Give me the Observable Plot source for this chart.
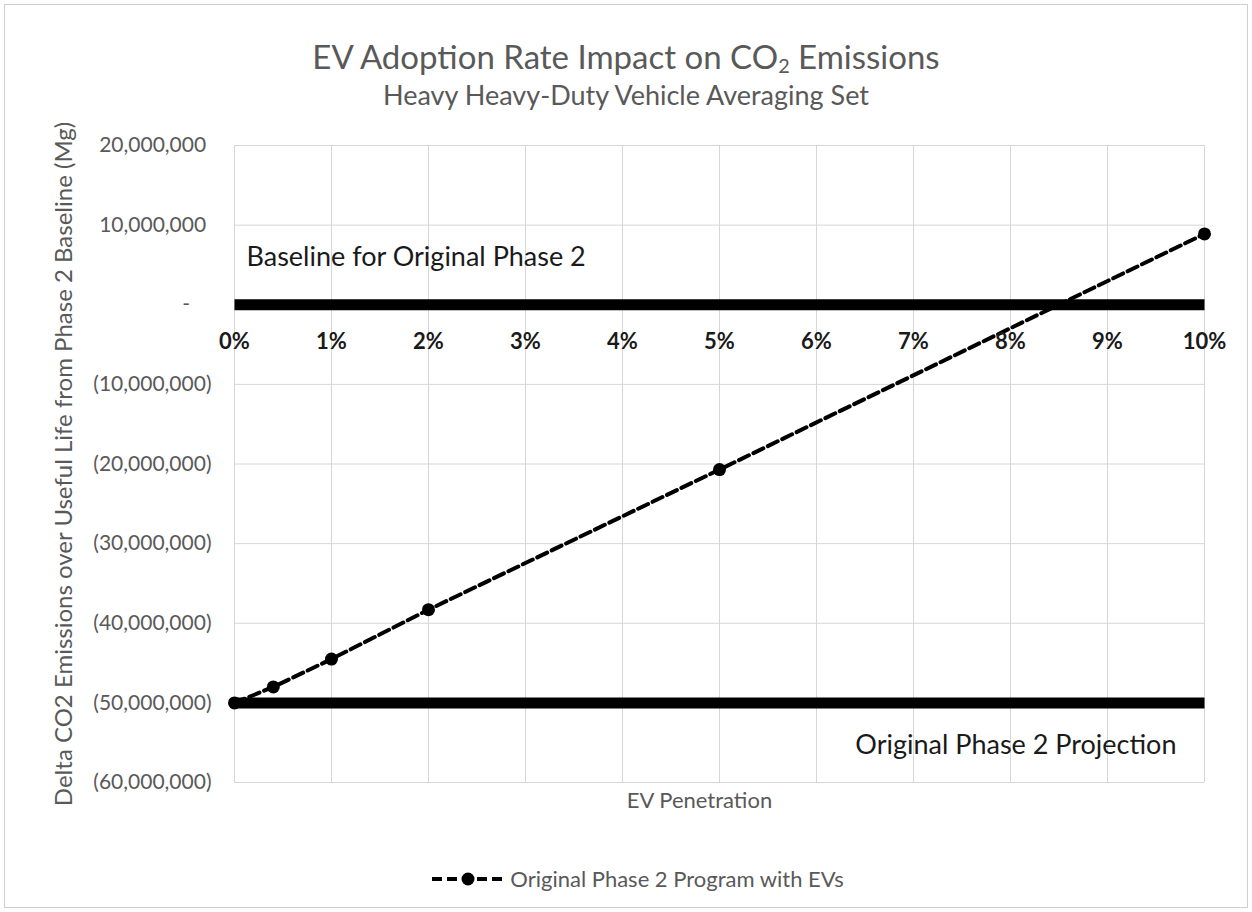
<!DOCTYPE html>
<html>
<head>
<meta charset="utf-8">
<script src="https://cdn.jsdelivr.net/npm/d3@7"></script>
<script src="https://cdn.jsdelivr.net/npm/@observablehq/plot@0.6"></script>
<style>
  html, body { margin: 0; padding: 0; background: #fff; }
  body { font-family: Lato, "Open Sans", sans-serif; }
  #page { position: relative; width: 1252px; height: 912px; overflow: hidden; }
  #frame { position: absolute; left: 4px; top: 4px; width: 1244px; height: 904px; border: 1px solid #cfcfcf; box-sizing: border-box; pointer-events: none; }
  #head { height: 130px; position: relative; }
  #title { position: absolute; top: 40px; left: 0; width: 1252px; text-align: center; color: #595959; font-size: 33px; line-height: 1; }
  #title sub { font-size: 0.6em; vertical-align: -0.2em; line-height: 0; }
  #subtitle { position: absolute; top: 81px; left: 0; width: 1252px; text-align: center; color: #595959; font-size: 27px; line-height: 1; }
  #chart { height: 700px; }
  #legend { position: relative; height: 82px; }
  #legend .item { position: absolute; top: 35px; left: 12px; width: 1252px; display: flex; justify-content: center; align-items: center; color: #595959; font-size: 22px; }
  #legend svg { margin-right: 6px; }
</style>
</head>
<body>
<div id="page">
  <div id="head">
    <div id="title">EV Adoption Rate Impact on CO<sub>2</sub> Emissions</div>
    <div id="subtitle">Heavy Heavy-Duty Vehicle Averaging Set</div>
  </div>
  <div id="chart"></div>
  <div id="legend"></div>
  <div id="frame"></div>
</div>
<script>
// ---- data ----
const evPenetration = [0, 0.4, 1, 2, 5, 10];                 // % EV penetration
const deltaCO2 = [-50.0e6, -48.0e6, -44.5e6, -38.3e6, -20.7e6, 8.9e6]; // Mg
const refX = [0, 10];
const baselineValue = [0, 0];            // Baseline for Original Phase 2
const projectionValue = [-50e6, -50e6];  // Original Phase 2 Projection
const xTicks = [0, 1, 2, 3, 4, 5, 6, 7, 8, 9, 10];
const yTicks = [20e6, 10e6, 0, -10e6, -20e6, -30e6, -40e6, -50e6, -60e6];
const seriesName = "Original Phase 2 Program with EVs";
const baselineLabel = "Baseline for Original Phase 2";
const projectionLabel = "Original Phase 2 Projection";
const xTitle = "EV Penetration";
const yTitle = "Delta CO2 Emissions over Useful Life from Phase 2 Baseline (Mg)";

const series = evPenetration.map((x, i) => ({x, y: deltaCO2[i]}));
const baseline = refX.map((x, i) => ({x, y: baselineValue[i]}));
const projection = refX.map((x, i) => ({x, y: projectionValue[i]}));

const fmt = d3.format(",");
const yFormat = d => d === 0 ? "-\u00a0\u00a0\u00a0\u00a0" : d < 0 ? "(" + fmt(-d) + ")" : fmt(d) + "\u00a0";

const gray = "#595959";
const gridColor = "#d6d6d6";

const chart = Plot.plot({
  width: 1252,
  height: 700,
  marginTop: 15,
  marginBottom: 48,
  marginLeft: 234,
  marginRight: 48,
  style: {fontFamily: "Lato, 'Open Sans', sans-serif", background: "transparent", overflow: "visible"},
  x: {domain: [0, 10], axis: null},
  y: {domain: [-60e6, 20e6], axis: null},
  marks: [
    Plot.ruleX(xTicks, {stroke: gridColor, strokeWidth: 1}),
    Plot.ruleY(yTicks, {stroke: gridColor, strokeWidth: 1}),
    Plot.axisY(yTicks, {
      tickSize: 0, tickPadding: 23, tickFormat: yFormat,
      fontSize: 21, fill: gray, label: null
    }),
    Plot.line(baseline, {x: "x", y: "y", stroke: "#000", strokeWidth: 11, strokeLinecap: "butt"}),
    Plot.line(projection, {x: "x", y: "y", stroke: "#000", strokeWidth: 11, strokeLinecap: "butt"}),
    Plot.line(series, {x: "x", y: "y", stroke: "#000", strokeWidth: 4, strokeDasharray: "11,5"}),
    Plot.dot(series, {x: "x", y: "y", r: 6.5, fill: "#000", stroke: "none"}),
    Plot.text(xTicks, {x: d => d, y: () => 0, text: d => d + "%", dy: 37, fontSize: 22, fontWeight: "bold", fill: "#1a1a1a"}),
    Plot.text([baselineLabel], {x: () => refX[0], y: () => baselineValue[0], text: d => d, textAnchor: "start", dx: 12, dy: -47, fontSize: 27, fill: "#1a1a1a"}),
    Plot.text([projectionLabel], {x: () => refX[1], y: () => projectionValue[1], text: d => d, textAnchor: "end", dx: -28, dy: 42, fontSize: 27, fill: "#1a1a1a"}),
    Plot.text([xTitle], {frameAnchor: "bottom", textAnchor: "middle", text: d => d, dx: -20, dy: 25, fontSize: 22, fill: gray}),
    Plot.text([yTitle], {frameAnchor: "left", textAnchor: "middle", text: d => d, rotate: -90, dx: -170, dy: 0, fontSize: 24, fill: gray})
  ]
});
document.getElementById("chart").appendChild(chart);

// legend
const leg = document.createElement("div");
leg.className = "item";
leg.innerHTML = `<svg width="72" height="16" viewBox="0 0 72 16"><line x1="0" y1="8" x2="72" y2="8" stroke="#000" stroke-width="4" stroke-dasharray="10,5"/><circle cx="36" cy="8" r="6.5" fill="#000"/></svg><span></span>`;
leg.querySelector("span").textContent = seriesName;
document.getElementById("legend").appendChild(leg);
</script>
</body>
</html>
